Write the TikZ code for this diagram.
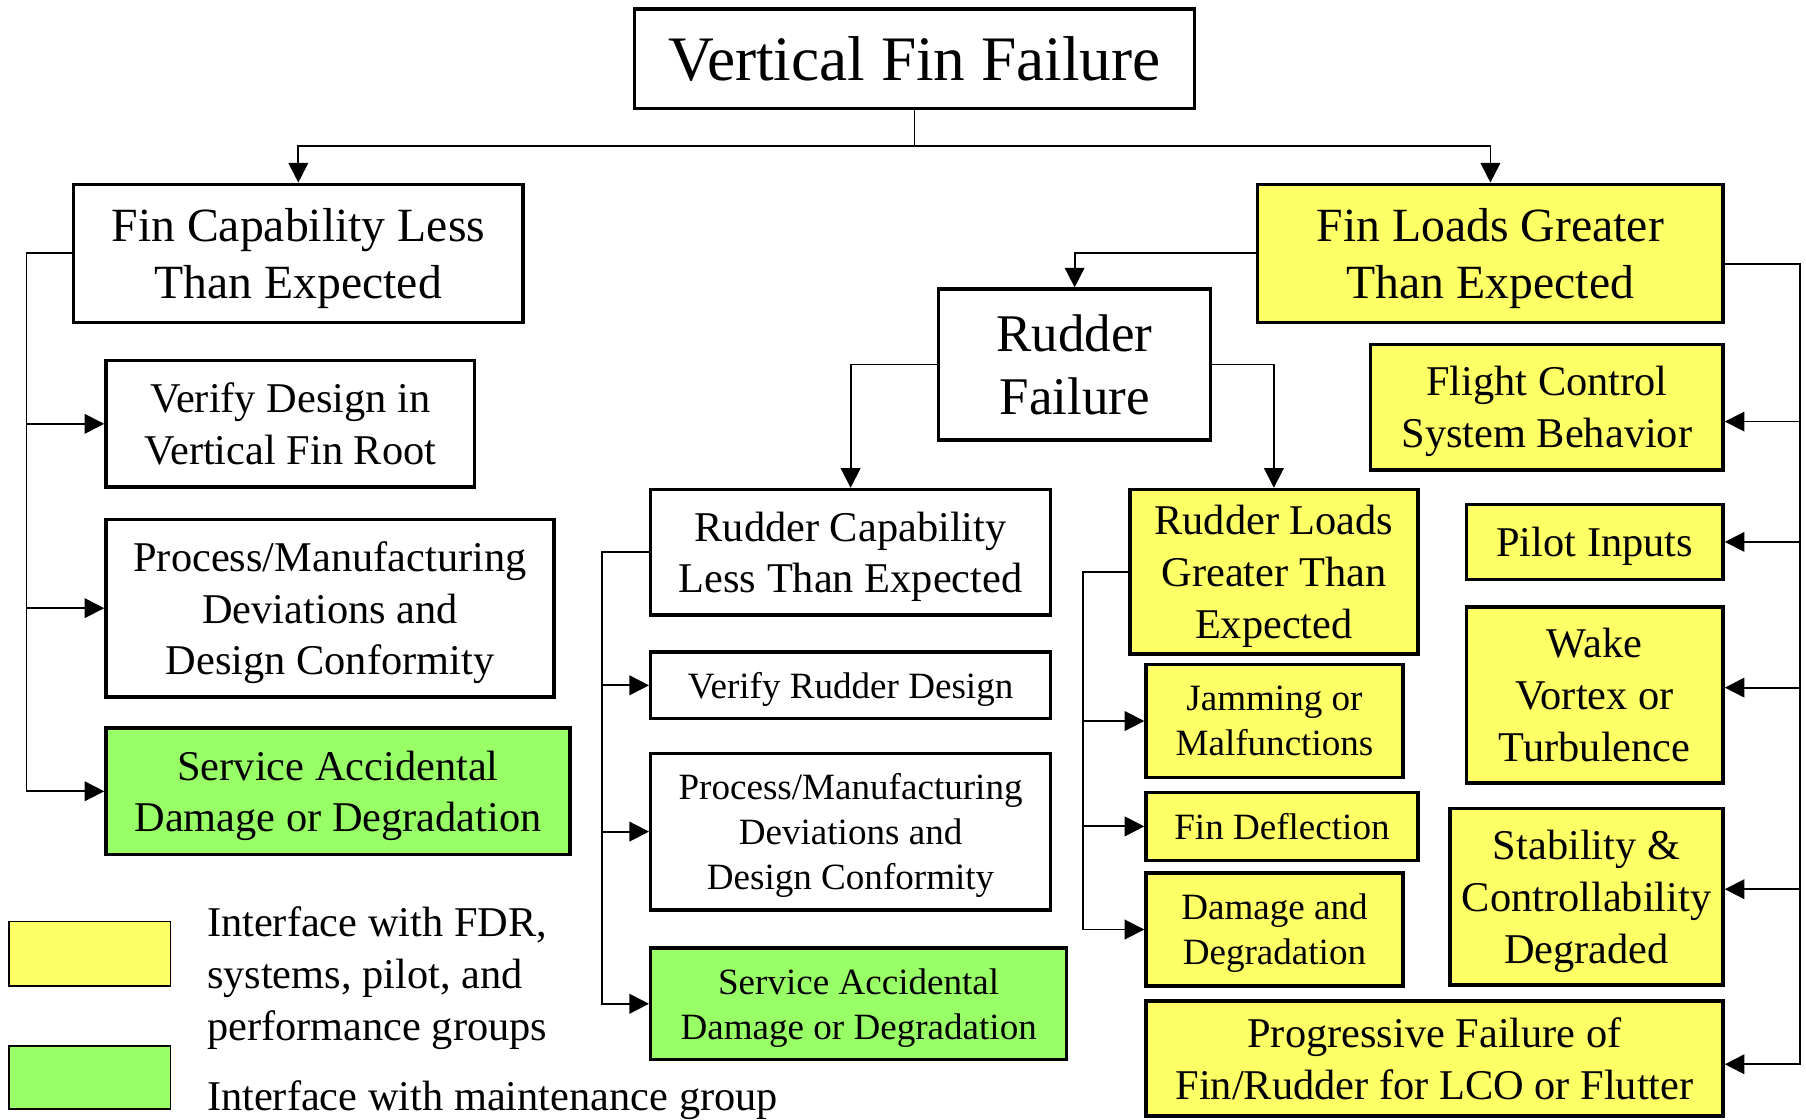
\documentclass[tikz,border=0pt]{standalone}
\usepackage{fontspec}
\setmainfont{Liberation Serif}
\usetikzlibrary{arrows.meta}
\definecolor{loadyellow}{HTML}{FFFF66}
\definecolor{maintgreen}{HTML}{99FF66}
\tikzset{every picture/.style={line width=1.5pt}}
\tikzset{
  box/.style={draw, line width=3pt, inner sep=0pt, align=center, text depth=0pt},
  ybox/.style={box, fill=loadyellow},
  gbox/.style={box, fill=maintgreen},
  ftitle/.style={font=\fontsize{55}{64}\selectfont},
  fbig/.style={font=\fontsize{41.4}{50}\selectfont},
  frud/.style={font=\fontsize{46}{55}\selectfont},
  fmed/.style={font=\fontsize{36.8}{45}\selectfont},
  fsml/.style={font=\fontsize{32.2}{39}\selectfont},
  link/.style={line width=1.6pt},
  arr/.style={link, -{Triangle[length=17pt,width=17pt]}},
}
\begin{document}
\begin{tikzpicture}[x=1pt,y=1pt,yscale=-1,xscale=1]
\useasboundingbox (0,0) rectangle (1568,972);

%Shape: top event
\node [box, ftitle, minimum width=486pt, minimum height=86pt] (title) at (794,51) {Vertical Fin Failure};

%Shape: capability branch
\node [box, fbig, minimum width=390pt, minimum height=120pt] (fcl) at (259,220) {Fin Capability Less\\Than Expected};
\node [box, fmed, minimum width=320pt, minimum height=110pt] (vdr) at (252,368) {Verify Design in\\Vertical Fin Root};
\node [box, fmed, minimum width=389pt, minimum height=154pt] (pml) at (286.5,528) {Process/Manufacturing\\Deviations and\\Design Conformity};
\node [gbox, fmed, minimum width=403pt, minimum height=110pt] (sal) at (293.5,687) {Service Accidental\\Damage or Degradation};

%Shape: loads branch
\node [ybox, fbig, minimum width=404pt, minimum height=120pt] (flg) at (1294,220) {Fin Loads Greater\\Than Expected};
\node [box, frud, minimum width=236pt, minimum height=131pt] (rf) at (933,316.5) {Rudder\\Failure};

%Shape: rudder capability
\node [box, fmed, minimum width=347pt, minimum height=109pt] (rcl) at (738.5,479.5) {Rudder Capability\\Less Than Expected};
\node [box, fsml, minimum width=347pt, minimum height=58pt] (vrd) at (738.5,595) {Verify Rudder Design};
\node [box, fsml, minimum width=347pt, minimum height=136pt] (pmm) at (738.5,722) {Process/Manufacturing\\Deviations and\\Design Conformity};
\node [gbox, fsml, minimum width=361pt, minimum height=97pt] (sam) at (745.5,871.5) {Service Accidental\\Damage or Degradation};

%Shape: rudder loads
\node [ybox, fmed, minimum width=250pt, minimum height=143pt] (rlg) at (1106,496.5) {Rudder Loads\\Greater Than\\Expected};
\node [ybox, fsml, minimum width=223pt, minimum height=98pt] (jam) at (1106.5,626) {Jamming or\\Malfunctions};
\node [ybox, fsml, minimum width=236pt, minimum height=59pt] (fd) at (1113,717.5) {Fin Deflection};
\node [ybox, fsml, minimum width=223pt, minimum height=98pt] (dd) at (1106.5,807) {Damage and\\Degradation};

%Shape: fin loads causes
\node [ybox, fmed, minimum width=306pt, minimum height=109pt] (fcs) at (1343,353.5) {Flight Control\\System Behavior};
\node [ybox, fmed, minimum width=223pt, minimum height=65pt] (pil) at (1384.5,470.5) {Pilot Inputs};
\node [ybox, fmed, minimum width=223pt, minimum height=153pt] (wvt) at (1384.5,603.5) {Wake\\Vortex or\\Turbulence};
\node [ybox, fmed, minimum width=237pt, minimum height=153pt] (scd) at (1377.5,778.5) {Stability \&\\Controllability\\Degraded};
\node [ybox, fmed, minimum width=501pt, minimum height=100pt] (pfr) at (1245.5,919) {Progressive Failure of\\Fin/Rudder for LCO or Flutter};

%Shape: legend
\node [ybox, line width=1.5pt, minimum width=140pt, minimum height=56pt] (keyy) at (78,828) {};
\node [gbox, line width=1.5pt, minimum width=140pt, minimum height=55pt] (keyg) at (78,935.5) {};
% Text Node
\node [fmed, anchor=west, inner sep=0pt, align=left] (keyytxt) at (179,849) {Interface with FDR,\\systems, pilot, and\\performance groups};
% Text Node
\node [fmed, anchor=west, inner sep=0pt] (keygtxt) at (179,955) {Interface with maintenance group};

%Connectors
\coordinate (tj) at (794,127);
\coordinate (lbus) at (23,0);
\coordinate (mbus) at (523,0);
\coordinate (rbus) at (940,0);
\coordinate (fbus) at (1563,0);

\draw [link] (title.south) -- (tj);
\draw [arr] (tj) -| (fcl.north);
\draw [arr] (tj) -| (flg.north);
\draw [arr] (flg.west) -| (rf.north);
\draw [arr] (rf.west) -| (rcl.north);
\draw [arr] (rf.east) -| (rlg.north);

\foreach \t in {vdr,pml,sal}
  \draw [arr] (fcl.west) -- (fcl.west -| lbus) |- (\t.west);
\foreach \t in {vrd,pmm,sam}
  \draw [arr] (rcl.west) -- (rcl.west -| mbus) |- (\t.west);
\foreach \t in {jam,fd,dd}
  \draw [arr] (rlg.west) -- (rlg.west -| rbus) |- (\t.west);

\coordinate (flgout) at ([yshift=9pt]flg.east);
\draw [arr] (flgout) -- (flgout -| fbus) |- ([yshift=12.5pt]fcs.east);
\draw [arr] (flgout) -- (flgout -| fbus) |- (pil.east);
\draw [arr] (flgout) -- (flgout -| fbus) |- ([yshift=-6.5pt]wvt.east);
\draw [arr] (flgout) -- (flgout -| fbus) |- ([yshift=-6.5pt]scd.east);
\draw [arr] (flgout) -- (flgout -| fbus) |- ([yshift=5pt]pfr.east);

\end{tikzpicture}
\end{document}
